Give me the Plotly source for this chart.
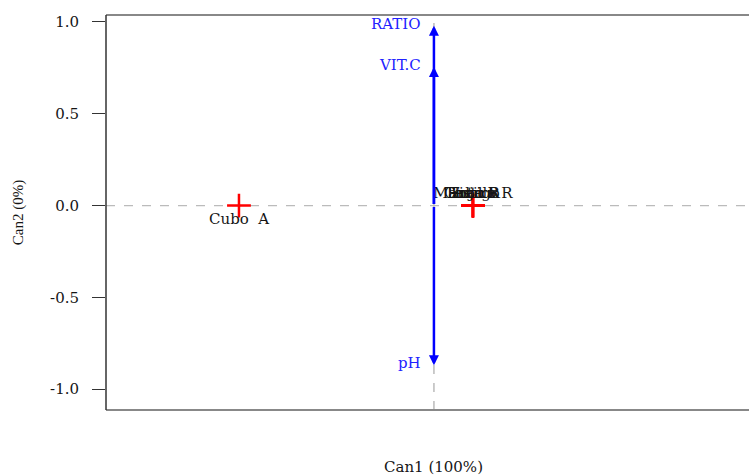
import plotly.graph_objects as go

# Group scores
groups = ["Cubo A", "Mantillo R", "Cubo R", "Testigo", "Hoja R", "Tierra"]
can1 = [-5.0, 1.0, 1.0, 1.0, 1.0, 1.0]
can2 = [0.0, 0.0, 0.0, 0.0, 0.0, 0.0]

# Variable structure vectors
variables = ["RATIO", "VIT.C", "pH"]
var_x = [0.0, 0.0, 0.0]
var_y = [0.98, 0.755, -0.87]

y_ticks = [1.0, 0.5, 0.0, -0.5, -1.0]
y_tick_labels = ["1.0", "0.5", "0.0", "-0.5", "-1.0"]

WIDE = "DejaVu Serif, serif"
SERIF = "Liberation Serif, Times New Roman, serif"
INK = "#151515"

fig = go.Figure()

# reference dashed lines
fig.add_hline(y=0, line=dict(color="#bbbbbb", width=1.2, dash="dash"), layer="below")
fig.add_vline(x=0, line=dict(color="#bbbbbb", width=1.5, dash="dash"), layer="below")

fig.add_trace(go.Scatter(
    x=can1, y=can2, mode="markers",
    marker=dict(symbol="cross-thin", size=17, line=dict(color="red", width=2.5), color="red"),
    hoverinfo="text", text=groups, showlegend=False,
))

# group labels
for g, x, y in zip(groups, can1, can2):
    if x < 0:
        fig.add_annotation(x=x, y=y, text=g.replace(" ", "&nbsp;&nbsp;"), showarrow=False, yshift=-13,
                           font=dict(family=WIDE, size=15, color=INK))
    else:
        fig.add_annotation(x=x, y=y, text=g, showarrow=False, yshift=13,
                           font=dict(family=WIDE, size=15, color=INK))

# variable arrows
for v, vx, vy in zip(variables, var_x, var_y):
    fig.add_annotation(x=vx, y=vy, ax=0, ay=0, axref="x", ayref="y", xref="x", yref="y",
                       showarrow=True, arrowhead=2, arrowsize=0.8, arrowwidth=2.5,
                       arrowcolor="#0000ff", text="")
    fig.add_annotation(x=vx, y=vy, text=v, showarrow=False, xanchor="right",
                       xshift=-11, yshift=2,
                       font=dict(family=WIDE, size=15, color="#2222ff"))

# x title
fig.add_annotation(x=0, y=0, xref="x", yref="paper", yshift=-68, text="Can1 (100%)",
                   showarrow=False, font=dict(family=WIDE, size=15, color=INK))

# frame lines (top, bottom, left)
fig.add_shape(type="line", xref="paper", yref="paper", x0=0, x1=1, y0=1, y1=1,
              line=dict(color="#888888", width=2))
fig.add_shape(type="line", xref="paper", yref="paper", x0=0, x1=1, y0=0, y1=0,
              line=dict(color="#888888", width=2))
fig.add_shape(type="line", xref="paper", yref="paper", x0=0, x1=0, y0=0, y1=1,
              line=dict(color="#333333", width=1.5))

fig.update_layout(
    width=749, height=476,
    margin=dict(l=106, r=0, t=15, b=66),
    paper_bgcolor="white", plot_bgcolor="white",
    xaxis=dict(range=[-8.41, 8.08], showgrid=False, zeroline=False, showticklabels=False,
               ticks="", showline=False),
    yaxis=dict(range=[-1.114, 1.038], showgrid=False, zeroline=False,
               tickvals=y_ticks, ticktext=y_tick_labels,
               ticks="outside", ticklen=13, tickcolor="#333333", tickwidth=1,
               ticklabelstandoff=10,
               tickfont=dict(family=WIDE, size=15, color=INK),
               showline=False,
               title=dict(text="Can2 (0%)", standoff=22,
                          font=dict(family=SERIF, size=15, color=INK))),
)

fig.write_html("out.html", config={"displayModeBar": False},
               post_script="document.body.style.margin='0';document.body.style.overflow='hidden';")
